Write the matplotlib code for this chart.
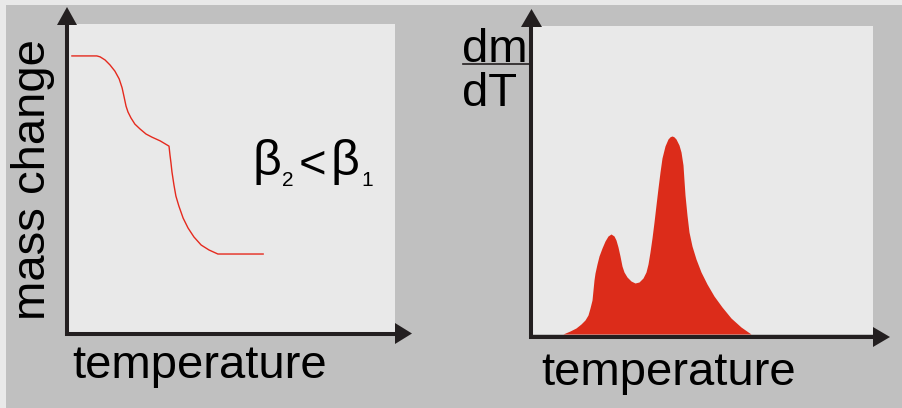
import matplotlib
matplotlib.use("Agg")
import matplotlib.pyplot as plt
from matplotlib.patches import Rectangle, Polygon

plt.rcParams['font.family'] = ['Liberation Sans', 'DejaVu Sans']

# Thermogravimetric curve (temperature vs. mass, arbitrary units)
tg_temperature = [1.5, 9.1, 10.1, 11.6, 13.1, 14.6, 15.9, 16.8, 17.4, 18.0, 18.6,
                  19.5, 20.7, 22.3, 24.1, 25.9, 28.4, 31.1, 31.4, 31.7, 32.0,
                  32.6, 33.2, 34.1, 35.4, 36.9, 38.7, 40.9, 43.3, 46.0, 59.8]
tg_mass = [89.7, 89.7, 89.4, 88.4, 86.8, 84.8, 82.3, 79.4, 76.5, 73.5, 71.6,
           69.7, 67.7, 66.1, 64.5, 63.5, 62.3, 60.6, 57.7, 55.2, 52.3,
           48.1, 44.5, 41.3, 37.4, 34.2, 31.3, 28.7, 27.1, 25.8, 25.8]

# Derivative curve dm/dT (arbitrary units)
dtg_temperature = [9.09, 11.14, 12.90, 14.37, 15.54, 16.42, 17.01, 17.60, 17.89, 18.18,
                   18.48, 19.06, 19.65, 20.53, 21.41, 22.29, 23.17, 24.05, 24.63, 25.22,
                   25.81, 26.39, 26.98, 27.86, 29.03, 30.21, 31.38, 32.55, 33.43, 34.02,
                   34.60, 35.19, 35.78, 36.36, 36.95, 37.54, 38.12, 39.00, 39.88, 40.50,
                   41.06, 41.60, 42.23, 43.11, 43.70, 44.28, 44.57, 44.87, 45.45, 46.04,
                   46.92, 48.09, 49.56, 51.32, 53.37, 55.72, 58.36, 61.29, 64.22]
dtg_rate = [0.0, 0.97, 1.95, 3.25, 4.55, 6.17, 8.44, 11.04, 14.29, 17.53,
            19.81, 22.73, 25.32, 27.92, 30.19, 31.82, 32.47, 31.82, 30.52, 28.25,
            25.32, 22.08, 20.13, 18.51, 17.21, 16.56, 16.88, 18.18, 20.13, 22.73,
            26.62, 31.17, 36.36, 41.88, 47.40, 52.60, 57.14, 61.04, 63.31, 64.05,
            64.29, 64.05, 63.31, 61.36, 59.09, 54.87, 50.00, 45.13, 38.64, 33.12,
            28.57, 24.35, 20.13, 16.23, 12.34, 8.77, 5.19, 2.27, 0.0]

W, H = 902, 408
LIGHT = '#e9e9e9'
GRAY = '#c0c0c0'
DARK = '#231f20'
LINE_RED = '#e52a1e'
FILL_RED = '#dc2c1a'

fig = plt.figure(figsize=(W / 100, H / 100), dpi=100, facecolor=LIGHT)


def frac(x0, y_top, x1, y_bot):
    return [x0 / W, (H - y_bot) / H, (x1 - x0) / W, (y_bot - y_top) / H]


# background
bg = fig.add_axes([0, 0, 1, 1], zorder=0)
bg.set_xlim(0, W)
bg.set_ylim(H, 0)
bg.axis('off')
bg.add_patch(Rectangle((6, 5), W - 6, H - 5, color=GRAY, lw=0))


def panel(rect):
    ax = fig.add_axes(rect, zorder=1)
    ax.set_facecolor(LIGHT)
    ax.set_xticks([])
    ax.set_yticks([])
    for s in ax.spines.values():
        s.set_visible(False)
    ax.set_xlim(0, 100)
    ax.set_ylim(0, 100)
    return ax


# left panel: mass change
ax1 = panel(frac(67, 24, 395, 334))
ax1.plot(tg_temperature, tg_mass, color=LINE_RED, lw=1.0, solid_joinstyle='round')

# right panel: dm/dT
ax2 = panel(frac(532, 26, 873, 334))
ax2.fill_between(dtg_temperature, dtg_rate, 0, color=FILL_RED, lw=0)

# overlay for axis arrows and labels
ov = fig.add_axes([0, 0, 1, 1], zorder=3)
ov.set_xlim(0, W)
ov.set_ylim(H, 0)
ov.axis('off')
ov.patch.set_alpha(0)

lw_axis = 2.9
# left axes
ov.plot([67, 67], [336, 24], color=DARK, lw=lw_axis, solid_capstyle='butt')
ov.plot([65, 396], [334, 334], color=DARK, lw=lw_axis, solid_capstyle='butt')
ov.add_patch(Polygon([(57, 25), (77, 25), (67, 7)], closed=True, color=DARK, lw=0))
ov.add_patch(Polygon([(395, 323), (395, 344), (412, 333.5)], closed=True, color=DARK, lw=0))
# right axes
ov.plot([531, 531], [338.5, 26], color=DARK, lw=lw_axis, solid_capstyle='butt')
ov.plot([529, 874], [336.5, 336.5], color=DARK, lw=lw_axis, solid_capstyle='butt')
ov.add_patch(Polygon([(521, 27), (542, 27), (531.5, 9)], closed=True, color=DARK, lw=0))
ov.add_patch(Polygon([(873, 327), (873, 347), (890, 337)], closed=True, color=DARK, lw=0))

FS = 34
txt = dict(color='black', ha='left', va='baseline')
ov.text(45, 320, 'mass change', fontsize=FS, rotation=90, rotation_mode='anchor', **txt)
ov.text(72, 378, 'temperature', fontsize=FS, **txt)
ov.text(541, 385, 'temperature', fontsize=FS, **txt)

# dm / dT fraction
ov.text(462, 62, 'dm', fontsize=FS, **txt)
ov.plot([463, 530], [63.5, 63.5], color=DARK, lw=1.2)
ov.text(462, 106, 'dT', fontsize=FS, **txt)

# heating-rate relation
ov.text(252, 175, 'β', fontsize=36, **txt)
ov.text(282, 186, '2', fontsize=15, **txt)
ov.text(299, 177, '<', fontsize=34, **txt)
ov.text(331, 175, 'β', fontsize=36, **txt)
ov.text(361, 186, '1', fontsize=15, **txt)

fig.savefig('out.png', dpi=100, facecolor=LIGHT)
